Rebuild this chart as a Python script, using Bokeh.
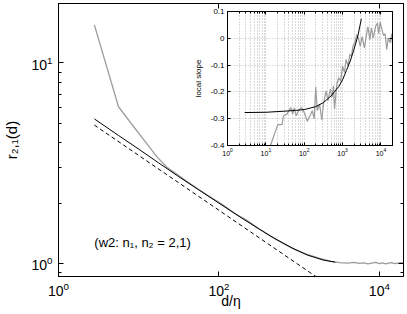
from bokeh.plotting import figure
from bokeh.models import LogAxis, LinearAxis, FixedTicker, CustomJSTickFormatter, Label
from bokeh.embed import file_html
from bokeh.resources import INLINE

FONT = "Liberation Sans"
GRAY = "#9c9c9c"
GRID = "#b4b4b4"

# ---------------- main panel data ----------------
data_d = [2.8, 5.6, 8.4, 11.2, 14, 16.8, 19.6, 22.4, 25.2, 28, 40, 56, 80, 112, 160,
          224, 316, 450, 630, 900, 1260, 1800, 2500, 3200, 4000, 4800, 5600, 6400,
          7200, 8000, 9000, 10000, 11000, 12000, 13000, 14000, 15500, 17000, 18500, 20000]
data_r = [15.5, 6.05, 4.89, 4.21, 3.75, 3.41, 3.2, 3.03, 2.92, 2.84, 2.56, 2.34, 2.13,
          1.96, 1.77, 1.64, 1.49, 1.36, 1.26, 1.17, 1.11, 1.06, 1.025, 1.01, 1.005, 1.012,
          1.0, 1.008, 0.995, 1.004, 1.012, 0.998, 1.006, 0.994, 1.003, 1.011, 0.997,
          1.004, 1.009, 1.002]

fit_d = [2.8, 5.6, 10, 17.8, 31.6, 56, 100, 200, 316, 500, 794, 1259, 1995, 2820]
fit_r = [5.26, 4.35, 3.72, 3.17, 2.71, 2.33, 2.00, 1.667, 1.486, 1.33, 1.202, 1.102,
         1.04, 1.015]

power_d = [2.8, 2000]
power_r = [4.90, 0.812]

main_x_ticks = [1, 100, 10000]
main_y_ticks = [1, 10]
main_y_minor = [0.9, 2, 3, 4, 5, 6, 7, 8, 9]

# ---------------- inset data ----------------
slope_fit_d = [2.8, 10, 30, 60, 100, 200, 316, 500, 794, 1000, 1259, 1585, 1995, 2512, 3090]
slope_fit_v = [-0.277, -0.276, -0.272, -0.269, -0.266, -0.255, -0.240, -0.215, -0.18,
               -0.155, -0.12, -0.085, -0.04, 0.01, 0.073]

slope_d = [11.0, 13.2, 20.4, 26.3, 28.8, 35.5, 44.7, 50.1, 55.0, 61.7, 70.8, 85.1, 104.7,
           120.2, 141.3, 162.2, 182.0, 199.5, 218.8, 251.2, 288.4, 316.2, 371.5, 416.9,
           478.6, 537.0, 575.4, 616.6, 707.9, 794.3, 891.3, 1000, 1122, 1230, 1380, 1549,
           1698, 1862, 2138, 2344, 2570, 2884, 3236, 3715, 4169, 4571, 5129, 5623, 6310,
           7244, 8128, 8710, 9550, 10715, 11749, 12882, 14125, 15488, 17378, 19055, 20000]
slope_v = [-0.46, -0.40, -0.322, -0.322, -0.289, -0.283, -0.258, -0.283, -0.26, -0.289,
           -0.27, -0.258, -0.283, -0.31, -0.289, -0.27, -0.301, -0.181, -0.27, -0.246,
           -0.305, -0.246, -0.196, -0.233, -0.19, -0.22, -0.178, -0.264, -0.171, -0.147,
           -0.16, -0.104, -0.128, -0.079, -0.104, -0.06, -0.066, -0.03, -0.011, 0.014,
           0.002, -0.03, 0.006, -0.036, 0.01, 0.044, -0.005, 0.038, 0.002, 0.044, 0.057,
           0.017, 0.06, 0.03, 0.01, 0.017, -0.042, 0.002, -0.017, 0.017, -0.02]

inset_x_ticks = [1, 10, 100, 1000, 10000]
inset_x_minor = [m * 10 ** e for e in range(0, 5) for m in range(2, 10) if m * 10 ** e <= 20000]
inset_y_ticks = [-0.4, -0.3, -0.2, -0.1, 0, 0.1]

blank = CustomJSTickFormatter(code="return ''")


def style_axis(ax, label_size, major_in, minor_in):
    ax.axis_line_color = "black"
    ax.major_tick_line_color = "black"
    ax.minor_tick_line_color = "black"
    ax.major_tick_in = major_in
    ax.major_tick_out = 0
    ax.minor_tick_in = minor_in
    ax.minor_tick_out = 0
    ax.major_label_text_font = FONT
    ax.major_label_text_font_size = label_size
    ax.major_label_text_color = "black"
    ax.axis_label_text_font = FONT
    ax.axis_label_text_font_style = "normal"
    ax.axis_label_text_color = "black"


# ---------------- main figure ----------------
p = figure(width=406, height=312, x_axis_type="log", y_axis_type="log",
           x_range=(1, 20000), y_range=(0.861, 19.8),
           output_backend="svg", toolbar_location=None,
           min_border_left=57, min_border_right=3, min_border_top=3, min_border_bottom=36,
           x_axis_label="d/η", y_axis_label="r₂,₁(d)")
p.styles = {"position": "absolute", "left": "0px", "top": "0px"}
p.grid.visible = False
p.outline_line_color = "black"
p.background_fill_color = "white"
p.border_fill_color = "white"

xt = FixedTicker(ticks=main_x_ticks, minor_ticks=[])
yt = FixedTicker(ticks=main_y_ticks, minor_ticks=main_y_minor)

xa = p.xaxis[0]
xa.ticker = xt
style_axis(xa, "14px", 5, 3)
xa.major_label_standoff = 5
xa.axis_label_text_font_size = "14px"
xa.axis_label_standoff = -6

ya = p.yaxis[0]
ya.ticker = yt
style_axis(ya, "14px", 5, 3)
ya.major_label_standoff = 6
ya.axis_label_text_font_size = "15px"
ya.axis_label_standoff = 8

top_ax = LogAxis(ticker=xt, formatter=blank)
style_axis(top_ax, "1px", 5, 3)
top_ax.major_label_standoff = 0
p.add_layout(top_ax, "above")

right_ax = LogAxis(ticker=yt, formatter=blank)
style_axis(right_ax, "1px", 5, 3)
right_ax.major_label_standoff = 0
p.add_layout(right_ax, "right")

p.line(data_d, data_r, line_color=GRAY, line_width=1.3)
p.line(fit_d, fit_r, line_color="black", line_width=1)
p.line(power_d, power_r, line_color="black", line_width=1, line_dash="4 3")

p.add_layout(Label(x=2.8, y=1.27, text="(w2: n₁, n₂ = 2,1)", text_font=FONT,
                   text_font_size="13px", text_baseline="middle", text_color="black"))

# ---------------- inset figure ----------------
q = figure(width=207, height=155, x_axis_type="log", x_range=(1, 20000), y_range=(-0.4, 0.1),
           output_backend="svg", toolbar_location=None,
           min_border_left=33, min_border_right=5, min_border_top=7, min_border_bottom=14,
           y_axis_label="local slope")
q.styles = {"position": "absolute", "left": "190px", "top": "4px"}
q.border_fill_color = None
q.background_fill_color = "white"
q.outline_line_color = "black"

ixt = FixedTicker(ticks=inset_x_ticks, minor_ticks=inset_x_minor)
iyt = FixedTicker(ticks=inset_y_ticks, minor_ticks=[])

qx = q.xaxis[0]
qx.ticker = ixt
style_axis(qx, "7px", 3, 2)
qx.major_label_standoff = 2

qy = q.yaxis[0]
qy.ticker = iyt
qy.formatter = CustomJSTickFormatter(
    code="return Math.abs(tick) < 1e-9 ? '0' : tick.toFixed(1)")
style_axis(qy, "8px", 3, 0)
qy.major_label_standoff = 3
qy.axis_label_text_font_size = "8px"
qy.axis_label_standoff = 5

q.xgrid.ticker = ixt
q.ygrid.ticker = iyt
for g in (q.xgrid, q.ygrid):
    g.grid_line_color = GRID
    g.grid_line_dash = "1 2"
    g.grid_line_width = 1
q.xgrid.minor_grid_line_color = GRID
q.xgrid.minor_grid_line_dash = "1 2"

qtop = LogAxis(ticker=ixt, formatter=blank)
style_axis(qtop, "1px", 3, 2)
qtop.major_label_standoff = 0
q.add_layout(qtop, "above")

qright = LinearAxis(ticker=iyt, formatter=blank)
style_axis(qright, "1px", 3, 0)
qright.major_label_standoff = 0
q.add_layout(qright, "right")

q.line(slope_d, slope_v, line_color=GRAY, line_width=1.2)
q.line(slope_fit_d, slope_fit_v, line_color="black", line_width=1)

open("out.html", "w").write(file_html([p, q], INLINE))
